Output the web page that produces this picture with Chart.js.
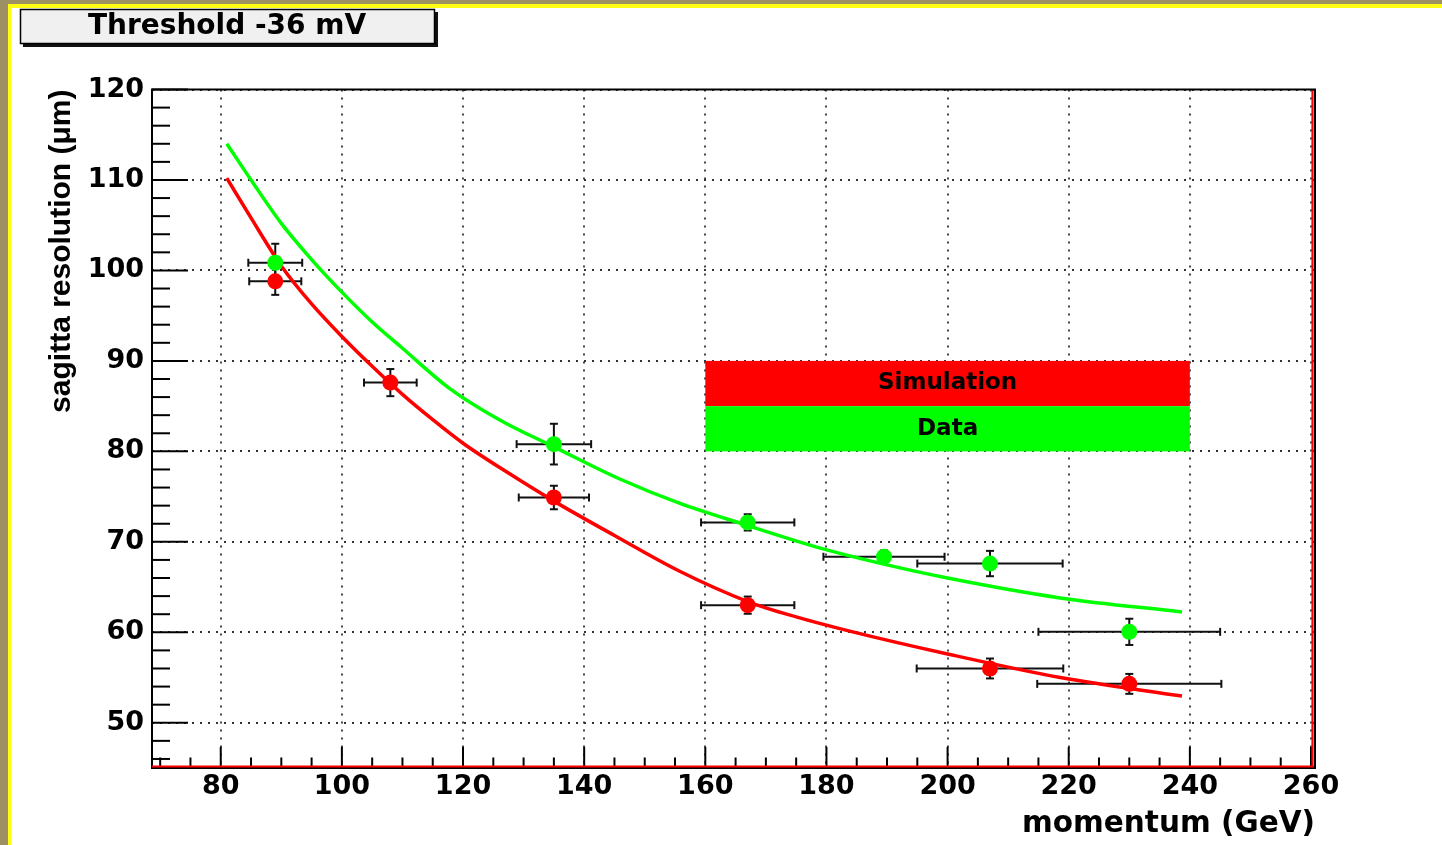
<!DOCTYPE html>
<html>
<head>
<meta charset="utf-8">
<script src="https://cdn.jsdelivr.net/npm/chart.js@4.4.1/dist/chart.umd.min.js"></script>
<style>
html,body{margin:0;padding:0;background:#fff;overflow:hidden}
canvas{display:block}
</style>
</head>
<body>
<canvas id="c" width="1442" height="845"></canvas>
<script>
// ---- text ----
const titleText = 'Threshold -36 mV';
const xAxisTitle = 'momentum (GeV)';
const yAxisTitle = 'sagitta resolution (\u03bcm)';
const legendLabels = ['Simulation', 'Data'];

// ---- tick labels ----
const xTicks = [80, 100, 120, 140, 160, 180, 200, 220, 240, 260];
const yTicks = [50, 60, 70, 80, 90, 100, 110, 120];

// ---- Simulation (red) measurements ----
const simX    = [89, 108, 135, 167, 207, 230];
const simY    = [98.8, 87.6, 74.9, 63.0, 56.0, 54.3];
const simXErr = [4.3, 4.35, 5.8, 7.7, 12.1, 15.2];
const simYErr = [1.5, 1.5, 1.3, 0.95, 1.1, 1.1];

// ---- Data (green) measurements ----
const dataX    = [89, 135, 167, 189.5, 207, 230];
const dataY    = [100.85, 80.8, 72.15, 68.35, 67.6, 60.05];
const dataXErr = [4.45, 6.15, 7.7, 10, 12, 15];
const dataYErr = [2.1, 2.25, 0.9, 0.7, 1.4, 1.45];

// ---- fitted curves ----
const simFitX = [81, 85, 90, 95, 100, 105, 110, 115, 120, 127.5, 135, 145, 155.6, 167, 175, 184, 200, 218.6, 238.7];
const simFitY = [110.2, 105.8, 100.5, 96.3, 92.7, 89.4, 86.3, 83.5, 80.9, 77.6, 74.5, 70.7, 66.8, 63.4, 61.7, 60.1, 57.6, 55.0, 52.95];
const dataFitX = [81, 85, 90, 95, 100, 105, 110, 117.7, 126, 135, 145.7, 155.6, 166.5, 179, 188.4, 200, 218.6, 238.7];
const dataFitY = [114.0, 110.0, 105.2, 101.2, 97.6, 94.3, 91.4, 87.0, 83.5, 80.5, 77.0, 74.3, 71.9, 69.3, 67.7, 66.0, 63.8, 62.25];

const RED = '#ff0000', GREEN = '#00ff00';
const W = 1442, H = 845;
const pts = (xs, ys) => xs.map((v, i) => ({x: v, y: ys[i]}));

function seg(c, x0, y0, x1, y1) {
  c.beginPath(); c.moveTo(x0, y0); c.lineTo(x1, y1); c.stroke();
}

const decor = {
  id: 'decor',
  beforeDraw(chart) {
    const c = chart.ctx;
    c.save();
    c.fillStyle = '#ffffff'; c.fillRect(0, 0, W, H);
    c.fillStyle = '#9d9062'; c.fillRect(0, 0, W, 4); c.fillRect(0, 0, 8, H);
    c.fillStyle = '#ffff14'; c.fillRect(8, 4, W - 8, 4); c.fillRect(8, 4, 3.5, H - 4);
    // title box with shadow
    c.fillStyle = '#111'; c.fillRect(23, 12, 415, 35);
    c.fillStyle = '#f0f0f0'; c.fillRect(20, 9, 415, 35);
    c.strokeStyle = '#000'; c.lineWidth = 1.5; c.strokeRect(20.5, 9.5, 414, 34);
    c.fillStyle = '#000'; c.font = 'bold 28px "DejaVu Sans"';
    c.textAlign = 'center'; c.textBaseline = 'middle';
    c.fillText(titleText, 227, 27);
    c.restore();
  },
  beforeDatasetsDraw(chart) {
    const {ctx: c, chartArea: a, scales: {x, y}} = chart;
    c.save();
    // dotted grid
    c.strokeStyle = '#333'; c.lineWidth = 1.8; c.setLineDash([2, 6]);
    xTicks.forEach(v => { const px = Math.round(x.getPixelForValue(v)); seg(c, px, a.top, px, a.bottom); });
    yTicks.forEach(v => { const py = Math.round(y.getPixelForValue(v)); seg(c, a.left, py, a.right, py); });
    c.setLineDash([]);
    // legend box
    const lx0 = x.getPixelForValue(160), lx1 = x.getPixelForValue(240);
    const ly0 = y.getPixelForValue(90), lym = y.getPixelForValue(85), ly1 = y.getPixelForValue(80);
    c.fillStyle = RED; c.fillRect(lx0, ly0, lx1 - lx0, lym - ly0);
    c.fillStyle = GREEN; c.fillRect(lx0, lym, lx1 - lx0, ly1 - lym);
    c.fillStyle = '#000'; c.font = 'bold 23px "DejaVu Sans"';
    c.textAlign = 'center'; c.textBaseline = 'middle';
    c.fillText(legendLabels[0], (lx0 + lx1) / 2, (ly0 + lym) / 2);
    c.fillText(legendLabels[1], (lx0 + lx1) / 2, (lym + ly1) / 2);
    // inward ticks
    c.strokeStyle = '#000'; c.lineWidth = 2;
    for (let v = 46; v <= 120; v += 2) {
      const py = y.getPixelForValue(v);
      const len = (v % 10 === 0) ? 36 : 18;
      seg(c, a.left, py, a.left + len, py);
    }
    for (let v = 70; v <= 260; v += 5) {
      const px = x.getPixelForValue(v);
      const len = (v % 20 === 0) ? 21 : 10.5;
      seg(c, px, a.bottom, px, a.bottom - len);
    }
    // frame
    c.strokeStyle = '#000'; c.lineWidth = 2;
    c.strokeRect(a.left, a.top, a.right - a.left, a.bottom - a.top);
    c.strokeStyle = RED; c.lineWidth = 2.2;
    seg(c, a.left, a.bottom - 1.5, a.right - 1, a.bottom - 1.5);
    seg(c, a.right - 2.5, a.top + 1, a.right - 2.5, a.bottom - 1);
    // error bars
    c.strokeStyle = '#111'; c.lineWidth = 2;
    const drawErr = (xs, ys, ex, ey) => {
      xs.forEach((v, i) => {
        const px = x.getPixelForValue(v), py = y.getPixelForValue(ys[i]);
        const xl = x.getPixelForValue(v - ex[i]), xr = x.getPixelForValue(v + ex[i]);
        const yt = y.getPixelForValue(ys[i] + ey[i]), yb = y.getPixelForValue(ys[i] - ey[i]);
        seg(c, xl, py, xr, py);
        seg(c, px, yt, px, yb);
        seg(c, xl, py - 4, xl, py + 4);
        seg(c, xr, py - 4, xr, py + 4);
        seg(c, px - 4, yt, px + 4, yt);
        seg(c, px - 4, yb, px + 4, yb);
      });
    };
    drawErr(dataX, dataY, dataXErr, dataYErr);
    drawErr(simX, simY, simXErr, simYErr);
    c.restore();
  }
};

const tickFont = {family: 'DejaVu Sans', weight: 'bold', size: 27};

new Chart(document.getElementById('c'), {
  type: 'scatter',
  data: {
    datasets: [
      {label: 'Simulation fit', data: pts(simFitX, simFitY), showLine: true, borderColor: RED,
       borderWidth: 3.5, pointRadius: 0, cubicInterpolationMode: 'monotone', order: 2},
      {label: 'Data fit', data: pts(dataFitX, dataFitY), showLine: true, borderColor: GREEN,
       borderWidth: 3.5, pointRadius: 0, cubicInterpolationMode: 'monotone', order: 2},
      {label: legendLabels[0], data: pts(simX, simY), pointRadius: 8, backgroundColor: RED,
       borderWidth: 0, showLine: false, order: 1},
      {label: legendLabels[1], data: pts(dataX, dataY), pointRadius: 8, backgroundColor: GREEN,
       borderWidth: 0, showLine: false, order: 1}
    ]
  },
  options: {
    responsive: false,
    animation: false,
    devicePixelRatio: 1,
    layout: {padding: {top: 89.5, right: 127, bottom: 0, left: 0}},
    plugins: {legend: {display: false}, tooltip: {enabled: false}, title: {display: false}},
    scales: {
      x: {
        type: 'linear', min: 68.65, max: 260.66,
        afterBuildTicks: s => { s.ticks = xTicks.map(v => ({value: v})); },
        afterFit: s => { s.height = 77; },
        grid: {display: false, drawTicks: false},
        border: {display: false},
        ticks: {font: tickFont, color: '#000', padding: 3, maxRotation: 0, autoSkip: false,
                callback: v => String(v)},
        title: {display: true, text: xAxisTitle, align: 'end', color: '#000',
                font: {family: 'DejaVu Sans', weight: 'bold', size: 29.5}, padding: {top: 0, bottom: 3}}
      },
      y: {
        type: 'linear', min: 45, max: 120,
        afterBuildTicks: s => { s.ticks = yTicks.map(v => ({value: v})); },
        afterFit: s => { s.width = 152; },
        grid: {display: false, drawTicks: false},
        border: {display: false},
        ticks: {font: tickFont, color: '#000', padding: 8, autoSkip: false, callback: v => String(v)},
        title: {display: true, text: yAxisTitle, align: 'end', color: '#000',
                font: {family: 'Liberation Sans', weight: 'bold', size: 30}, padding: {top: 44, bottom: 0}}
      }
    }
  },
  plugins: [decor]
});
</script>
</body>
</html>
